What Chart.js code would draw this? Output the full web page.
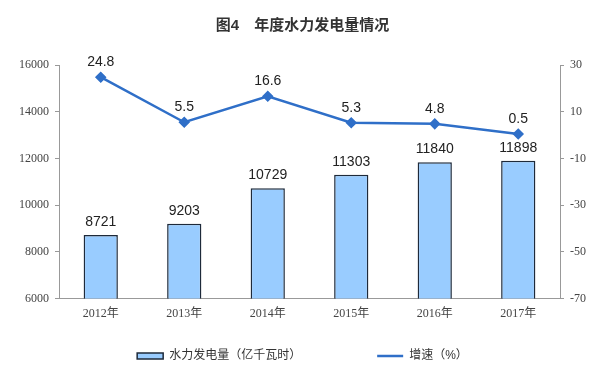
<!DOCTYPE html>
<html>
<head>
<meta charset="utf-8">
<script src="https://cdn.jsdelivr.net/npm/chart.js@4"></script>
<style>
  html, body { margin: 0; padding: 0; background: #fff; }
  #wrap { width: 600px; height: 376px; }
</style>
</head>
<body>
<div id="wrap"><canvas id="hydroChart"></canvas></div>
<script>
const years = ['2012年', '2013年', '2014年', '2015年', '2016年', '2017年'];
const output = [8721, 9203, 10729, 11303, 11840, 11898];
const growth = [24.8, 5.5, 16.6, 5.3, 4.8, 0.5];
const leftTicks = [6000, 8000, 10000, 12000, 14000, 16000];
const rightTicks = [-70, -50, -30, -10, 10, 30];

const serif = "'Liberation Serif', 'Times New Roman', 'Noto Sans CJK SC', serif";
const sans = "'Liberation Sans', Arial, 'Noto Sans CJK SC', sans-serif";

// value labels above bars and points
const valueLabels = {
  id: 'valueLabels',
  afterDatasetsDraw(chart) {
    const ctx = chart.ctx;
    ctx.save();
    ctx.fillStyle = '#222';
    ctx.font = '14px ' + sans;
    ctx.textAlign = 'center';
    ctx.textBaseline = 'bottom';
    chart.data.datasets.forEach((ds, i) => {
      const meta = chart.getDatasetMeta(i);
      meta.data.forEach((el, j) => {
        const gap = ds.type === 'line' ? 8 : 6;
        ctx.fillText(String(ds.data[j]), el.x, el.y - gap);
      });
    });
    ctx.restore();
  }
};

new Chart(document.getElementById('hydroChart'), {
  data: {
    labels: years,
    datasets: [
      {
        type: 'bar',
        label: '水力发电量（亿千瓦时）',
        data: output,
        yAxisID: 'y',
        backgroundColor: '#99ccff',
        borderColor: '#1e2a3a',
        borderWidth: 1.5,
        pointStyle: 'rect',
        barPercentage: 0.41,
        categoryPercentage: 1,
        order: 1
      },
      {
        type: 'line',
        label: '增速（%）',
        data: growth,
        yAxisID: 'y1',
        borderColor: '#2f6fc8',
        backgroundColor: '#2f6fc8',
        borderWidth: 2.5,
        pointStyle: 'rectRot',
        pointRadius: 4,
        pointBackgroundColor: '#2f6fc8',
        tension: 0,
        order: 0
      }
    ]
  },
  options: {
    responsive: true,
    maintainAspectRatio: false,
    animation: false,
    layout: { padding: { left: 13, right: 8, top: 0, bottom: 4 } },
    plugins: {
      title: {
        display: true,
        text: '图4　年度水力发电量情况',
        color: '#333',
        font: { family: sans, size: 15, weight: 'bold' },
        padding: { top: 17, bottom: 30 }
      },
      legend: {
        position: 'bottom',
        reverse: true,
        labels: {
          color: '#333',
          font: { family: sans, size: 12 },
          usePointStyle: true,
          pointStyleWidth: 26,
          boxHeight: 6,
          padding: 10,
          generateLabels(chart) {
            const items = Chart.defaults.plugins.legend.labels.generateLabels(chart);
            items.forEach(it => {
              if (it.datasetIndex === 0) {
                it.text = it.text + '　　　　　　';
              } else {
                it.pointStyle = 'line';
              }
            });
            return items;
          }
        }
      },
      tooltip: { enabled: false }
    },
    scales: {
      x: {
        offset: true,
        grid: { display: false },
        border: { color: '#999' },
        ticks: { color: '#444', font: { family: serif, size: 12 }, padding: 0 },
        afterFit: s => { s.height += 19; }
      },
      y: {
        position: 'left',
        min: leftTicks[0],
        max: leftTicks[leftTicks.length - 1],
        afterBuildTicks: axis => { axis.ticks = leftTicks.map(v => ({ value: v })); },
        grid: { drawOnChartArea: false, color: '#999', tickLength: 4 },
        border: { color: '#999' },
        ticks: { color: '#444', font: { family: serif, size: 12 }, padding: 6, callback: v => String(v) }
      },
      y1: {
        position: 'right',
        min: rightTicks[0],
        max: rightTicks[rightTicks.length - 1],
        afterBuildTicks: axis => { axis.ticks = rightTicks.map(v => ({ value: v })); },
        grid: { drawOnChartArea: false, color: '#999', tickLength: 4 },
        border: { color: '#999' },
        ticks: { color: '#444', font: { family: serif, size: 12 }, padding: 6, callback: v => String(v) }
      }
    }
  },
  plugins: [valueLabels]
});
</script>
</body>
</html>
